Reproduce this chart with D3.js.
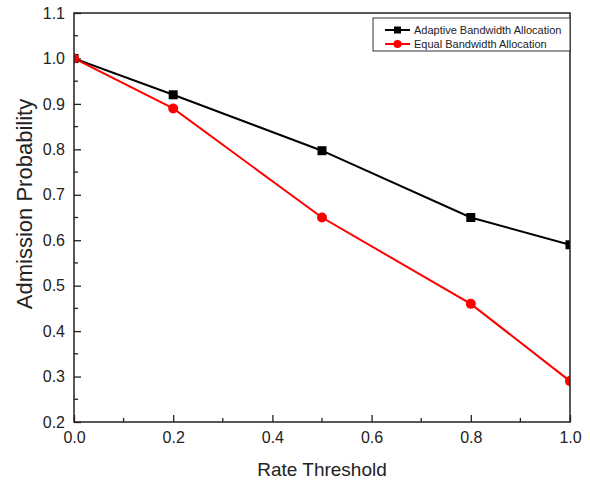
<!DOCTYPE html>
<html>
<head>
<meta charset="utf-8">
<script src="https://cdn.jsdelivr.net/npm/d3@7"></script>
<style>
  body { margin: 0; background: #fff; }
  text { font-family: "Liberation Sans", Arial, sans-serif; fill: #222; }
</style>
</head>
<body>
<div id="chart"></div>
<script>
var rates = [0.0, 0.2, 0.5, 0.8, 1.0];
var adaptive = [1.0, 0.92, 0.797, 0.65, 0.59];
var equal = [1.0, 0.89, 0.65, 0.46, 0.29];
var seriesNames = ["Adaptive Bandwidth Allocation", "Equal Bandwidth Allocation"];
var xTicks = [0.0, 0.2, 0.4, 0.6, 0.8, 1.0];
var yTicks = [0.2, 0.3, 0.4, 0.5, 0.6, 0.7, 0.8, 0.9, 1.0, 1.1];

var W = 590, H = 481;
var margin = {top: 13, right: 20, bottom: 59, left: 74};
var width = W - margin.left - margin.right;
var height = H - margin.top - margin.bottom;

var svg = d3.select("#chart").append("svg")
    .attr("width", W)
    .attr("height", H);

svg.append("defs").append("clipPath").attr("id", "plotclip")
    .append("rect").attr("width", width).attr("height", height);

var g = svg.append("g")
    .attr("transform", "translate(" + margin.left + "," + margin.top + ")");

var x = d3.scaleLinear().domain([0, 1]).range([0, width]);
var y = d3.scaleLinear().domain([0.2, 1.1]).range([height, 0]);

// minor ticks
var xMinor = d3.range(0.1, 1.0, 0.2);
var yMinor = d3.range(0.25, 1.1, 0.1);

g.selectAll(".xminor").data(xMinor).enter().append("line")
    .attr("x1", function(d) { return x(d); })
    .attr("x2", function(d) { return x(d); })
    .attr("y1", height).attr("y2", height - 4)
    .attr("stroke", "#222").attr("stroke-width", 1.3);

g.selectAll(".yminor").data(yMinor).enter().append("line")
    .attr("y1", function(d) { return y(d); })
    .attr("y2", function(d) { return y(d); })
    .attr("x1", 0).attr("x2", 4)
    .attr("stroke", "#222").attr("stroke-width", 1.3);

var xAxis = g.append("g")
    .attr("transform", "translate(0," + height + ")")
    .call(d3.axisBottom(x).tickValues(xTicks).tickFormat(d3.format(".1f"))
        .tickSizeInner(-7).tickSizeOuter(0).tickPadding(10));

var yAxis = g.append("g")
    .call(d3.axisLeft(y).tickValues(yTicks).tickFormat(d3.format(".1f"))
        .tickSizeInner(-7).tickSizeOuter(0).tickPadding(9));

[xAxis, yAxis].forEach(function(a) {
    a.selectAll("line").attr("stroke", "#222").attr("stroke-width", 1.3);
    a.select(".domain").remove();
    a.selectAll("text").style("font-size", "16px")
        .style("font-family", "Liberation Sans, Arial, sans-serif").attr("fill", "#222");
});

var plot = g.append("g").attr("clip-path", "url(#plotclip)");

var line = d3.line()
    .x(function(d, i) { return x(rates[i]); })
    .y(function(d) { return y(d); });

plot.append("path").datum(adaptive)
    .attr("d", line).attr("fill", "none")
    .attr("stroke", "#000").attr("stroke-width", 2);

plot.append("path").datum(equal)
    .attr("d", line).attr("fill", "none")
    .attr("stroke", "#ff0000").attr("stroke-width", 2);

plot.selectAll(".sq").data(adaptive).enter().append("rect")
    .attr("x", function(d, i) { return x(rates[i]) - 4.5; })
    .attr("y", function(d) { return y(d) - 4.5; })
    .attr("width", 9).attr("height", 9)
    .attr("fill", "#000");

plot.selectAll(".dot").data(equal).enter().append("circle")
    .attr("cx", function(d, i) { return x(rates[i]); })
    .attr("cy", function(d) { return y(d); })
    .attr("r", 5)
    .attr("fill", "#ff0000");

// frame
g.append("rect")
    .attr("x", 0).attr("y", 0)
    .attr("width", width).attr("height", height)
    .attr("fill", "none").attr("stroke", "#222").attr("stroke-width", 1.5);

// legend
var leg = g.append("g").attr("transform", "translate(" + (373 - margin.left) + "," + (18 - margin.top) + ")");
leg.append("rect")
    .attr("width", width - (373 - margin.left)).attr("height", 33)
    .attr("fill", "#fff").attr("stroke", "#333").attr("stroke-width", 1);

var legColors = ["#000", "#ff0000"];
seriesNames.forEach(function(name, i) {
    var yy = 12 + i * 14;
    leg.append("line")
        .attr("x1", 12).attr("x2", 37).attr("y1", yy).attr("y2", yy)
        .attr("stroke", legColors[i]).attr("stroke-width", 2);
    if (i === 0) {
        leg.append("rect").attr("x", 21).attr("y", yy - 3.5)
            .attr("width", 7).attr("height", 7).attr("fill", "#000");
    } else {
        leg.append("circle").attr("cx", 24.5).attr("cy", yy).attr("r", 4)
            .attr("fill", "#ff0000");
    }
    leg.append("text")
        .attr("x", 41).attr("y", yy + 4)
        .style("font-size", "11px")
        .text(name);
});

// axis titles
svg.append("text")
    .attr("x", 322)
    .attr("y", 476)
    .attr("text-anchor", "middle")
    .style("font-size", "19px")
    .text("Rate Threshold");

svg.append("text")
    .attr("transform", "translate(32,204) rotate(-90)")
    .attr("text-anchor", "middle")
    .style("font-size", "22px")
    .text("Admission Probability");
</script>
</body>
</html>
